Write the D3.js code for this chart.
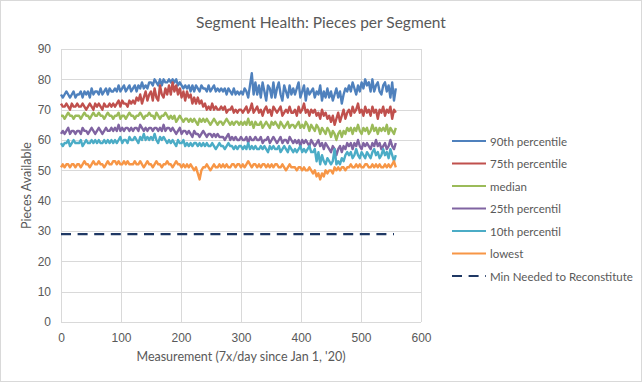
<!DOCTYPE html>
<html><head><meta charset="utf-8">
<script src="https://cdn.jsdelivr.net/npm/d3@7"></script>
<style>
html,body{margin:0;padding:0;background:#fff;}
svg{display:block;font-family:Lato,"Open Sans",sans-serif;}
</style></head>
<body>
<svg id="chart" width="642" height="382"></svg>
<script>
const title = "Segment Health: Pieces per Segment";
const xTitle = "Measurement (7x/day since Jan 1, '20)";
const yTitle = "Pieces Available";
const xTicks = [0,100,200,300,400,500,600];
const yTicks = [0,10,20,30,40,50,60,70,80,90];
const measurementStep = 3; // one sample every 3 measurements
const seriesNames = ["90th percentile","75th percentile","median","25th percentil","10th percentil","lowest"];
const minNeededName = "Min Needed to Reconstitute";
const minNeeded = 29;
const minNeededRange = [0, 555];

const p90 = [
75,74,75,76,75,74,75,76,74,75, 75,76,74,76,75,76,74,77,75,76,
76,75,77,75,76,77,75,77,76,76, 77,76,78,76,77,78,76,77,78,76,
77,78,76,78,77,79,77,78,77,79, 79,78,80,79,78,80,78,80,79,79,
80,79,80,79,80,78,79,78,77,78, 77,78,76,78,76,78,77,76,78,77,
77,76,78,76,77,78,76,77,76,77, 76,77,75,77,76,75,77,75,76,75,
76,75,77,76,74,78,82,75,79,75, 78,74,79,76,73,78,77,74,79,74,
77,79,75,73,78,76,74,78,75,77, 75,77,79,74,76,78,73,77,75,76,
77,74,76,75,78,73,76,74,77,74, 76,73,75,77,74,76,72,75,77,76,
78,76,79,77,75,78,76,79,77,80, 78,79,76,80,76,78,79,76,75,78,
79,76,78,74,79,73,77];
const p75 = [
72,71,71,72,71,70,72,71,71,72, 71,71,72,71,70,71,72,71,70,72,
71,72,71,70,72,71,71,72,71,72, 71,72,73,71,73,72,72,71,73,72,
73,72,74,73,75,72,74,76,73,75, 76,73,77,74,73,78,75,74,77,75,
78,75,79,76,78,75,77,74,76,73, 76,74,75,72,74,72,74,72,73,71,
72,70,71,70,72,70,71,70,70,71, 70,71,69,70,70,71,69,70,69,70,
70,69,70,71,69,70,72,69,70,71, 69,70,68,70,71,69,70,68,71,70,
69,70,71,68,69,70,69,71,69,69, 70,68,71,69,70,72,69,70,68,70,
69,70,68,69,67,70,68,69,67,68, 66,68,65,67,69,66,68,70,67,69,
70,68,71,69,70,72,69,70,68,71, 69,70,68,71,69,70,67,70,69,71,
68,70,69,71,67,70,69];
const median = [
68,68,67,68,69,68,68,67,68,68, 68,67,68,69,68,68,67,68,69,68,
68,69,68,68,67,68,69,68,68,67, 68,68,69,67,68,68,67,68,69,68,
68,67,68,68,69,68,67,68,68,69, 68,68,67,69,68,67,68,68,69,68,
67,68,67,68,66,67,68,67,66,67, 67,66,67,66,67,66,65,67,66,67,
66,67,66,65,66,67,66,65,66,66, 65,66,67,66,65,66,65,66,66,65,
66,65,66,65,67,65,66,64,66,65, 65,66,64,65,66,65,64,66,65,66,
65,64,66,65,64,65,66,64,65,65, 64,65,66,64,65,64,66,65,63,65,
64,63,65,64,62,64,63,62,64,63, 61,63,62,60,62,63,61,63,62,64,
63,64,62,64,63,65,63,62,64,63, 64,62,63,65,63,64,62,64,63,64,
63,65,62,64,63,62,64];
const p25 = [
62,63,62,63,64,62,63,63,62,63, 63,62,64,63,63,62,63,64,63,62,
63,64,63,62,63,64,63,63,64,63, 64,63,65,63,64,63,64,64,63,64,
63,64,64,63,65,64,63,64,63,64, 64,63,64,64,63,64,63,65,63,64,
64,63,64,63,62,63,64,62,63,63, 62,63,62,61,63,62,62,61,62,63,
62,61,62,62,61,62,61,62,61,61, 61,60,61,62,60,61,60,61,60,60,
61,60,60,61,59,61,60,60,61,60, 60,61,59,60,60,61,59,60,61,60,
59,60,61,59,60,60,59,61,60,59, 60,59,60,58,60,59,60,59,58,60,
59,58,59,60,58,59,57,59,58,57, 56,58,57,55,57,58,56,58,57,59,
58,59,57,59,58,60,58,57,59,58, 59,58,57,59,58,60,58,59,57,58,
59,57,58,60,58,57,59];
const p10 = [
59,58,59,59,60,58,59,60,59,59, 59,60,58,59,60,59,59,60,59,60,
59,60,59,59,60,59,60,59,60,59, 60,59,60,61,59,60,60,59,61,60,
60,61,60,59,61,60,62,60,61,60, 61,60,62,60,59,61,60,61,60,59,
60,59,60,59,58,60,59,59,60,58, 59,58,59,58,59,59,58,59,58,59,
58,59,58,58,59,58,57,58,59,58, 58,57,58,59,58,58,57,58,57,58,
58,57,58,57,59,57,58,57,58,57, 57,58,57,58,57,56,58,57,58,57,
57,58,56,57,58,57,56,58,57,56, 57,56,57,58,56,57,56,57,58,56,
56,57,53,56,52,55,53,52,54,53, 52,53,57,52,53,52,54,53,55,56,
55,56,54,55,57,55,54,56,55,54, 56,55,54,56,57,55,56,54,55,57,
55,56,54,57,55,53,55];
const lowest = [
51,52,51,52,52,51,52,52,51,52, 52,51,52,53,52,52,51,52,53,52,
52,53,52,52,51,52,53,52,52,53, 53,52,53,52,52,53,52,53,52,52,
52,53,52,52,53,52,51,52,53,52, 52,51,52,53,52,52,51,52,52,53,
52,52,51,52,53,52,52,51,52,51, 52,51,52,51,50,51,49,47,50,51,
51,52,51,50,51,52,51,51,52,51, 52,51,52,51,51,52,52,51,52,52,
51,52,51,52,53,52,51,52,52,51, 52,51,52,52,51,52,51,52,51,52,
52,51,51,52,51,50,51,52,51,51, 51,50,51,51,50,51,50,50,51,50,
49,50,48,49,47,49,48,50,49,50, 50,49,51,50,51,50,51,51,50,51,
51,52,51,51,52,51,52,51,51,52, 52,51,51,52,51,52,51,52,51,51,
52,51,52,51,52,53,51];

const seriesValues = [p90, p75, median, p25, p10, lowest];
const seriesColors = ["#4F81BD","#C0504D","#9BBB59","#8064A2","#4BACC6","#F79646"];
const minColor = "#1F3864";

const svg = d3.select("#chart");
const W = 642, H = 382;
const plot = {left:61, right:421, top:49, bottom:322};
const textColor = "#595959";
const gridColor = "#D9D9D9";

svg.append("rect").attr("x",0.5).attr("y",0.5).attr("width",W-1).attr("height",H-1)
  .attr("fill","#fff").attr("stroke","#D9D9D9");

const x = d3.scaleLinear().domain([0,600]).range([plot.left, plot.right]);
const y = d3.scaleLinear().domain([0,90]).range([plot.bottom, plot.top]);

const g = svg.append("g");
g.selectAll("line.h").data(yTicks).enter().append("line")
  .attr("x1",plot.left).attr("x2",plot.right)
  .attr("y1",d=>Math.round(y(d))+0.5).attr("y2",d=>Math.round(y(d))+0.5)
  .attr("stroke",gridColor).attr("stroke-width",1);
g.selectAll("line.v").data(xTicks).enter().append("line")
  .attr("y1",plot.top).attr("y2",plot.bottom)
  .attr("x1",d=>Math.round(x(d))+0.5).attr("x2",d=>Math.round(x(d))+0.5)
  .attr("stroke",gridColor).attr("stroke-width",1);

const xAxis = svg.append("g").attr("transform",`translate(0,${plot.bottom})`)
  .call(d3.axisBottom(x).tickValues(xTicks).tickSize(0).tickPadding(11));
xAxis.select(".domain").remove();
xAxis.selectAll("text").attr("fill",textColor).style("font-size","12px");
const yAxis = svg.append("g").attr("transform",`translate(${plot.left},0)`)
  .call(d3.axisLeft(y).tickValues(yTicks).tickSize(0).tickPadding(10));
yAxis.select(".domain").remove();
yAxis.selectAll("text").attr("fill",textColor).style("font-size","12px");

svg.append("line")
  .attr("x1",x(minNeededRange[0])).attr("x2",x(minNeededRange[1]))
  .attr("y1",y(minNeeded)).attr("y2",y(minNeeded))
  .attr("stroke",minColor).attr("stroke-width",2.2)
  .attr("stroke-dasharray","10,6.6");

const line = d3.line().x((d,i)=>x(i*measurementStep)).y(d=>y(d));
seriesValues.forEach((vals,k)=>{
  svg.append("path").datum(vals).attr("d",line)
    .attr("fill","none").attr("stroke",seriesColors[k])
    .attr("stroke-width",2.4).attr("stroke-linejoin","round");
});

svg.append("text").attr("x",321).attr("y",28).attr("text-anchor","middle")
  .attr("fill",textColor).style("font-size","15.5px").text(title);
svg.append("text").attr("x",(plot.left+plot.right)/2).attr("y",361).attr("text-anchor","middle")
  .attr("fill",textColor).style("font-size","12.5px").text(xTitle);
svg.append("text").attr("transform",`translate(31,${(plot.top+plot.bottom)/2}) rotate(-90)`)
  .attr("text-anchor","middle").attr("fill",textColor).style("font-size","12.5px").text(yTitle);

const legendNames = seriesNames.concat([minNeededName]);
const legendColors = seriesColors.concat([minColor]);
const lg = svg.append("g");
legendNames.forEach((n,i)=>{
  const ly = 141 + i*22.5;
  const ln = lg.append("line").attr("x1",452).attr("x2",486).attr("y1",ly).attr("y2",ly)
    .attr("stroke",legendColors[i]).attr("stroke-width",2.2);
  if(i===6) ln.attr("stroke-dasharray","10,6.6");
  lg.append("text").attr("x",490).attr("y",ly+4.5).attr("fill",textColor)
    .style("font-size","11.5px").text(n);
});
</script>
</body></html>
